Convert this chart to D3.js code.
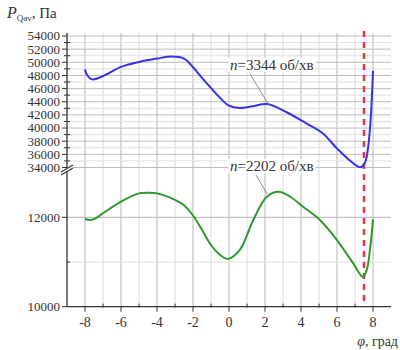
<!DOCTYPE html>
<html>
<head>
<meta charset="utf-8">
<script src="https://cdn.jsdelivr.net/npm/d3@7"></script>
<style>
  body { margin: 0; background: #fff; }
  svg text { font-family: "Liberation Serif", "Times New Roman", "DejaVu Serif", serif; }
</style>
</head>
<body>
<div id="chart"></div>
<script>
// n = 3344 rpm curve (upper panel)
const phiBlue = [-8, -7.9, -7.6, -7, -6, -5, -4, -3.2, -2.5, -2, -1.5, -1, -0.5, 0, 0.6, 1.3, 2.1, 3.2, 4.3, 5.2, 6, 6.7, 7.3, 7.55, 7.7, 7.85, 8];
const pBlue = [48900, 48150, 47400, 47900, 49300, 50050, 50570, 50870, 50570, 49250, 47640, 46100, 44600, 43400, 43050, 43300, 43650, 42400, 40700, 39200, 36900, 35100, 34050, 34700, 36500, 40500, 48700];

// n = 2202 rpm curve (lower panel)
const phiGreen = [-8, -7.7, -7.45, -7, -6, -5, -4.5, -4, -3, -2.5, -2, -1.5, -1, -0.5, -0.05, 0.6, 1.35, 2.1, 2.75, 3.4, 4.1, 5.05, 6, 6.9, 7.43, 7.65, 7.83, 8];
const pGreen = [11960, 11940, 11970, 12090, 12350, 12535, 12550, 12535, 12390, 12270, 12040, 11720, 11380, 11160, 11070, 11270, 11940, 12460, 12570, 12460, 12240, 11940, 11490, 10970, 10670, 10820, 11270, 11955];

const xTicks = [-8, -6, -4, -2, 0, 2, 4, 6, 8];
const topTicks = [34000, 36000, 38000, 40000, 42000, 44000, 46000, 48000, 50000, 52000, 54000];
const bottomTicks = [10000, 12000];
const phiMark = 7.5;
const labelBlue = "3344 об/хв";
const labelGreen = "2202 об/хв";

const width = 400, height = 350;

const svg = d3.select("#chart").append("svg")
    .attr("width", width).attr("height", height);

const x = d3.scaleLinear().domain([-9, 9]).range([67, 391]);
const yTop = d3.scaleLinear().domain([34000, 54000]).range([167.5, 36]);
const yBot = d3.scaleLinear().domain([10000, 13000]).range([306.7, 172.6]);

const gridTop = 33, axisBottom = yBot(10000);

// vertical grid
svg.append("g").selectAll("line")
   .data(d3.range(-8, 9, 1))
   .enter().append("line")
   .attr("x1", d => x(d)).attr("x2", d => x(d))
   .attr("y1", gridTop).attr("y2", axisBottom)
   .attr("stroke", d => d % 2 === 0 ? "#c4c4c4" : "#e2e2e2")
   .attr("stroke-width", 1.2);

// horizontal grid, upper panel
svg.append("g").selectAll("line")
   .data(d3.range(34000, 54001, 1000))
   .enter().append("line")
   .attr("x1", x(-9)).attr("x2", x(9))
   .attr("y1", d => yTop(d)).attr("y2", d => yTop(d))
   .attr("stroke", d => d % 2000 === 0 ? "#bdbdbd" : "#dedede")
   .attr("stroke-width", 1);

// horizontal grid, lower panel
svg.append("g").selectAll("line")
   .data([11000, 12000])
   .enter().append("line")
   .attr("x1", x(-9)).attr("x2", x(9))
   .attr("y1", d => yBot(d)).attr("y2", d => yBot(d))
   .attr("stroke", d => d === 12000 ? "#b5b5b5" : "#e0e0e0")
   .attr("stroke-width", 1);

// red dashed line
svg.append("line")
   .attr("x1", x(phiMark)).attr("x2", x(phiMark))
   .attr("y1", gridTop - 2).attr("y2", axisBottom)
   .attr("stroke", "#e8343a")
   .attr("stroke-width", 2.5)
   .attr("stroke-dasharray", "6,5");

// curves
const lineTop = d3.line().x(d => x(d[0])).y(d => yTop(d[1])).curve(d3.curveCatmullRom.alpha(0.5));
const lineBot = d3.line().x(d => x(d[0])).y(d => yBot(d[1])).curve(d3.curveCatmullRom.alpha(0.5));

svg.append("path")
   .datum(d3.zip(phiBlue, pBlue))
   .attr("d", lineTop)
   .attr("fill", "none")
   .attr("stroke", "#3434e6")
   .attr("stroke-width", 2);

svg.append("path")
   .datum(d3.zip(phiGreen, pGreen))
   .attr("d", lineBot)
   .attr("fill", "none")
   .attr("stroke", "#2e9a2e")
   .attr("stroke-width", 2);

// annotations with leader lines
function annotate(tx, ty, text, lx1, ly1, lx2, ly2) {
    svg.append("line")
       .attr("x1", lx1).attr("y1", ly1).attr("x2", lx2).attr("y2", ly2)
       .attr("stroke", "#8a8a8a").attr("stroke-width", 1);
    const g = svg.append("g");
    const bg = g.append("rect").attr("fill", "#fff");
    const t = g.append("text")
       .attr("x", tx).attr("y", ty)
       .style("font-size", "15px")
       .attr("fill", "#333");
    t.append("tspan").style("font-style", "italic").text("n");
    t.append("tspan").text("=" + text);
    const bb = t.node().getBBox();
    bg.attr("x", bb.x - 2).attr("y", bb.y + 1).attr("width", bb.width + 4).attr("height", bb.height - 2);
}
annotate(230, 70, labelBlue, 250, 74, 269, 105);
annotate(230, 171, labelGreen, 256, 175, 267, 194);

// y axis line
svg.append("line")
   .attr("x1", 67).attr("x2", 67)
   .attr("y1", gridTop).attr("y2", axisBottom)
   .attr("stroke", "#333").attr("stroke-width", 1.3);

// y ticks upper
svg.append("g").selectAll("line")
   .data(d3.range(34000, 54001, 1000))
   .enter().append("line")
   .attr("x1", d => d % 2000 === 0 ? 62 : 64).attr("x2", d => d % 2000 === 0 ? 67 : 70)
   .attr("y1", d => yTop(d)).attr("y2", d => yTop(d))
   .attr("stroke", "#333");

svg.append("g").selectAll("text")
   .data(topTicks)
   .enter().append("text")
   .attr("x", 60).attr("y", d => yTop(d))
   .attr("dy", "0.34em")
   .attr("text-anchor", "end")
   .style("font-size", "13px")
   .attr("fill", "#333")
   .text(d => d);

// y ticks lower
svg.append("g").selectAll("line")
   .data([10000, 11000, 12000])
   .enter().append("line")
   .attr("x1", d => d === 11000 ? 67 : 62).attr("x2", d => d === 11000 ? 70 : 67)
   .attr("y1", d => yBot(d)).attr("y2", d => yBot(d))
   .attr("stroke", "#333");

svg.append("g").selectAll("text")
   .data(bottomTicks)
   .enter().append("text")
   .attr("x", 60).attr("y", d => yBot(d))
   .attr("dy", "0.34em")
   .attr("text-anchor", "end")
   .style("font-size", "13px")
   .attr("fill", "#333")
   .text(d => d);

// axis break mark
svg.append("polygon")
   .attr("points", "61,172 73,165 73,168 61,175")
   .attr("fill", "#fff");
svg.append("line").attr("x1", 61).attr("y1", 172).attr("x2", 73).attr("y2", 165)
   .attr("stroke", "#333").attr("stroke-width", 1.2);
svg.append("line").attr("x1", 61).attr("y1", 175).attr("x2", 73).attr("y2", 168)
   .attr("stroke", "#333").attr("stroke-width", 1.2);

// x axis
svg.append("line")
   .attr("x1", 67).attr("x2", x(9))
   .attr("y1", axisBottom).attr("y2", axisBottom)
   .attr("stroke", "#333").attr("stroke-width", 1.3);

svg.append("g").selectAll("line")
   .data(d3.range(-8, 9, 1))
   .enter().append("line")
   .attr("x1", d => x(d)).attr("x2", d => x(d))
   .attr("y1", d => d % 2 === 0 ? axisBottom : axisBottom - 3)
   .attr("y2", d => d % 2 === 0 ? axisBottom + 5 : axisBottom + 1)
   .attr("stroke", "#333");

svg.append("g").selectAll("text")
   .data(xTicks)
   .enter().append("text")
   .attr("x", d => x(d)).attr("y", axisBottom + 20)
   .attr("text-anchor", "middle")
   .style("font-size", "14px")
   .attr("fill", "#333")
   .text(d => d);

// axis titles
const yt = svg.append("text").attr("x", 7).attr("y", 18).attr("fill", "#333").style("font-size", "15px");
yt.append("tspan").style("font-style", "italic").style("font-size", "16px").text("P");
yt.append("tspan").attr("dy", 3).style("font-size", "9px").text("Qav");
yt.append("tspan").attr("dy", -3).text(", Па");

const xt = svg.append("text").attr("x", 398).attr("y", 346)
   .attr("text-anchor", "end").attr("fill", "#333").style("font-size", "14px");
xt.append("tspan").style("font-style", "italic").text("φ");
xt.append("tspan").text(", град");
</script>
</body>
</html>
